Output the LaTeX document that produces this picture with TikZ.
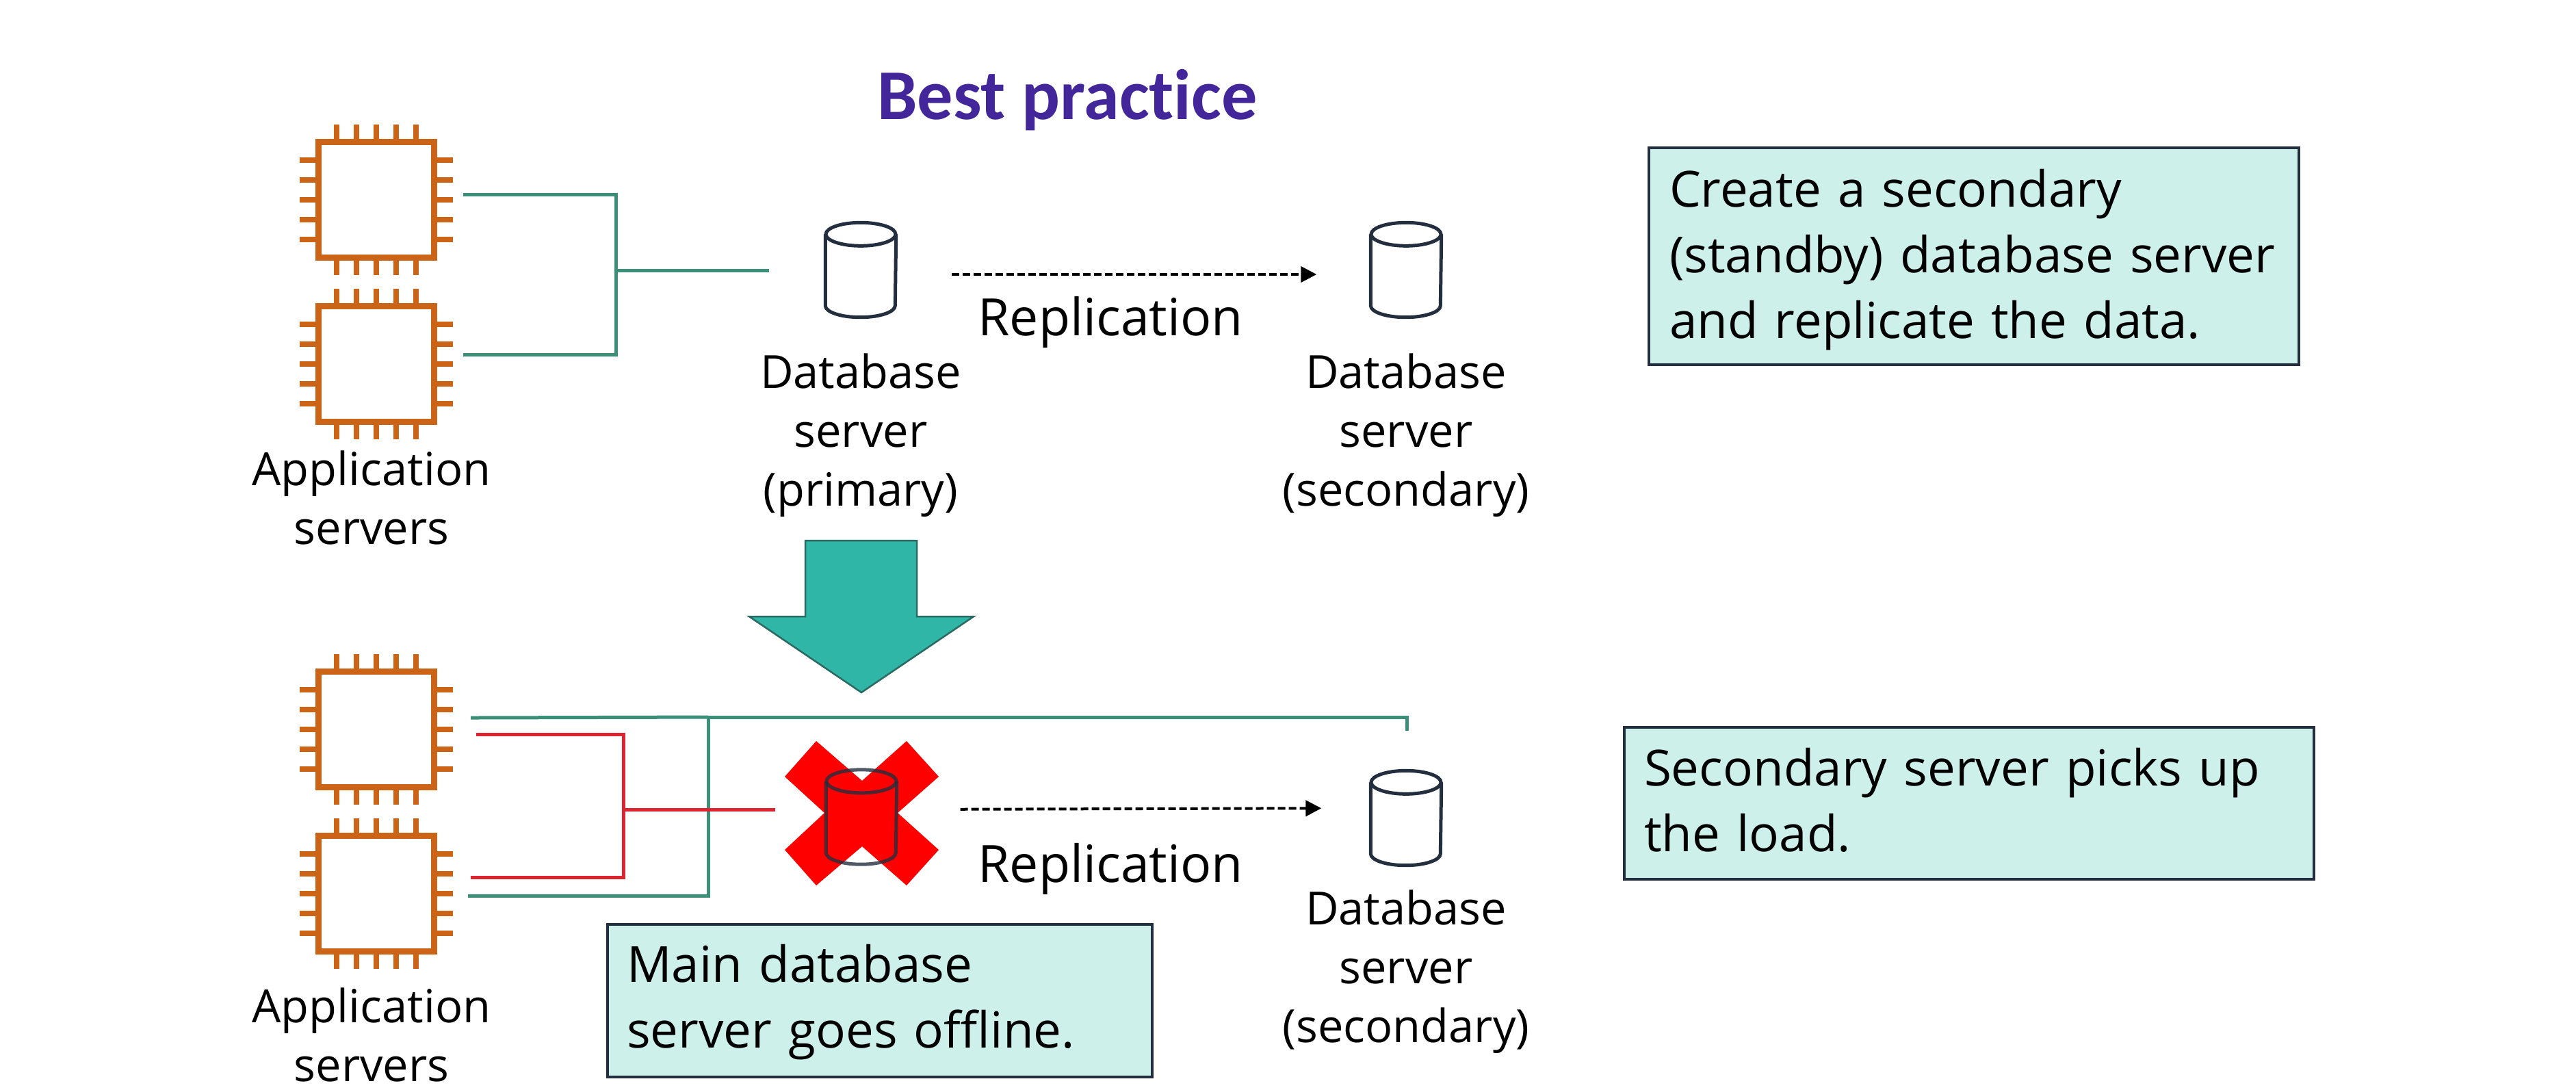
\documentclass[tikz,border=0pt]{standalone}
\usepackage{fontspec}
\setmainfont{Open Sans}
\newfontfamily\titlefont[Ligatures=NoCommon]{Carlito}
\usetikzlibrary{arrows.meta}

\definecolor{chiporange}{HTML}{CC6418}
\definecolor{linkgreen}{HTML}{3C8F78}
\definecolor{linkred}{HTML}{DC2430}
\definecolor{dbdark}{HTML}{232F3E}
\definecolor{boxfill}{HTML}{CDF0EB}
\definecolor{bigteal}{HTML}{2FB6A7}
\definecolor{bigedge}{HTML}{2A6A62}
\definecolor{titlepurple}{HTML}{42269A}

\tikzset{
    chipbody/.style={draw=chiporange, line width=0.09cm, fill=white, minimum width=1.69cm, minimum height=1.69cm, inner sep=0pt},
    chippin/.style={draw=chiporange, line width=0.08cm},
    dbbody/.style={minimum width=1.02cm, minimum height=1.37cm, inner sep=0pt},
    dbline/.style={draw=dbdark, line width=0.05cm},
    greenlink/.style={draw=linkgreen, line width=0.05cm},
    redlink/.style={draw=linkred, line width=0.05cm},
    replink/.style={draw=black, line width=0.04cm, dash pattern=on 0.11cm off 0.05cm, -{Triangle[length=0.23cm,width=0.23cm]}},
    caption/.style={align=center, font=\fontsize{19}{24.5}\selectfont},
    replabel/.style={anchor=west, font=\fontsize{21.4}{26}\selectfont},
    notebox/.style={draw=dbdark, line width=0.04cm, fill=boxfill, anchor=north west, align=left, inner xsep=0.28cm, font=\fontsize{20.7}{27.3}\selectfont}
}

% chip icon: name, centre
\newcommand{\chipicon}[2]{
    \node[chipbody] (#1) at #2 {};
    \foreach \k in {-2,...,2} {
        \draw[chippin] ([xshift=\k*0.29cm]#1.north) -- ++(0, 0.21);
        \draw[chippin] ([xshift=\k*0.29cm]#1.south) -- ++(0, -0.21);
        \draw[chippin] ([yshift=\k*0.29cm]#1.west) -- ++(-0.23, 0);
        \draw[chippin] ([yshift=\k*0.29cm]#1.east) -- ++(0.23, 0);
    }
}

% database icon: name, centre, extra line options
\newcommand{\dbicon}[3]{
    \node[dbbody] (#1) at #2 {};
    \draw[dbline, #3] ([yshift=-0.17cm]#1.north) ellipse [x radius=0.51, y radius=0.17];
    \draw[dbline, #3] ([yshift=-0.17cm]#1.north west) -- ([yshift=0.17cm]#1.south west)
        arc [start angle=180, end angle=360, x radius=0.51, y radius=0.17] -- ([yshift=-0.17cm]#1.north east);
}

\begin{document}
\begin{tikzpicture}
    \useasboundingbox[fill=white] (0, 0) rectangle (37.65, -15.92);

    \node[font=\titlefont\fontsize{29.7}{34}\selectfont\bfseries, text=titlepurple] (title) at (15.6, -1.46) {Best practice};

    % before
    \chipicon{appA}{(5.495, -2.915)}
    \chipicon{appB}{(5.495, -5.32)}
    \node[caption] (appcapA) at (5.43, -7.27) {Application\\servers};

    \dbicon{dbP}{(12.58, -3.945)}{}
    \dbicon{dbS}{(20.55, -3.945)}{}
    \node[caption] (dbcapP) at (12.58, -6.36) {Database\\server\\(primary)};
    \node[caption] (dbcapS) at (20.55, -6.36) {Database\\server\\(secondary)};

    \coordinate (outA) at (6.77, -2.84);
    \coordinate (outB) at (6.77, -5.18);
    \coordinate (busA) at (9.0, -3.95);
    \coordinate (inP) at (11.24, -3.95);
    \draw[greenlink] (outA) -| (busA) |- (outB);
    \draw[greenlink] (busA) -- (inP);

    \draw[replink, shorten <=0.81cm, shorten >=0.79cm] ([yshift=-0.065cm]dbP.east) -- ([yshift=-0.065cm]dbS.west);
    \node[replabel] (repA) at (14.17, -4.71) {Replication};

    \node[notebox, minimum width=9.5cm, minimum height=3.17cm, text width=8.9cm] (noteA) at (24.08, -2.14)
        {\rule{0pt}{18.6pt}Create a secondary\\(standby) database server\\and replicate the data.};

    % big arrow between the two states
    \filldraw[fill=bigteal, draw=bigedge, line width=0.025cm] (11.77, -7.9) -- (13.4, -7.9) -- (13.4, -9.01)
        -- (14.23, -9.01) -- (12.59, -10.12) -- (10.95, -9.01) -- (11.77, -9.01) -- cycle;

    % after
    \chipicon{appC}{(5.495, -10.655)}
    \chipicon{appD}{(5.495, -13.06)}
    \node[caption] (appcapB) at (5.43, -15.12) {Application\\servers};

    \fill[red] (11.93, -10.83) -- (12.6, -11.41) -- (13.25, -10.83) -- (13.72, -11.35) -- (13.12, -11.88)
        -- (13.72, -12.42) -- (13.25, -12.94) -- (12.6, -12.37) -- (11.93, -12.94) -- (11.47, -12.42)
        -- (12.05, -11.88) -- (11.47, -11.35) -- cycle;
    \dbicon{dbF}{(12.59, -11.94)}{opacity=0.8}
    \dbicon{dbT}{(20.55, -11.955)}{}
    \node[caption] (dbcapT) at (20.55, -14.2) {Database\\server\\(secondary)};

    \coordinate (outC) at (6.88, -10.49);
    \coordinate (outD) at (6.84, -13.09);
    \coordinate (busG) at (10.35, -10.48);
    \coordinate (inT) at (20.56, -10.68);
    \draw[greenlink] (outD) -| (busG);
    \draw[greenlink] (outC) -- (busG);
    \draw[greenlink] (busG) -| (inT);

    \coordinate (outE) at (6.96, -10.73);
    \coordinate (outF) at (6.88, -12.82);
    \coordinate (busR) at (9.11, -11.83);
    \coordinate (inF) at (11.33, -11.83);
    \draw[redlink] (outE) -| (busR) |- (outF);
    \draw[redlink] (busR) -- (inF);

    \draw[replink, shorten <=0.93cm, shorten >=0.72cm] ([yshift=0.11cm]dbF.east) -- ([yshift=0.145cm]dbT.west);
    \node[replabel] (repB) at (14.17, -12.7) {Replication};

    \node[notebox, minimum width=10.08cm, minimum height=2.22cm, text width=9.5cm] (noteB) at (23.72, -10.61)
        {Secondary server picks up\\the load.\rule[-2.8pt]{0pt}{0pt}};
    \node[notebox, minimum width=7.94cm, minimum height=2.23cm, text width=7.4cm] (noteC) at (8.86, -13.49)
        {\rule{0pt}{17pt}Main database\\server goes offline.};
\end{tikzpicture}
\end{document}
